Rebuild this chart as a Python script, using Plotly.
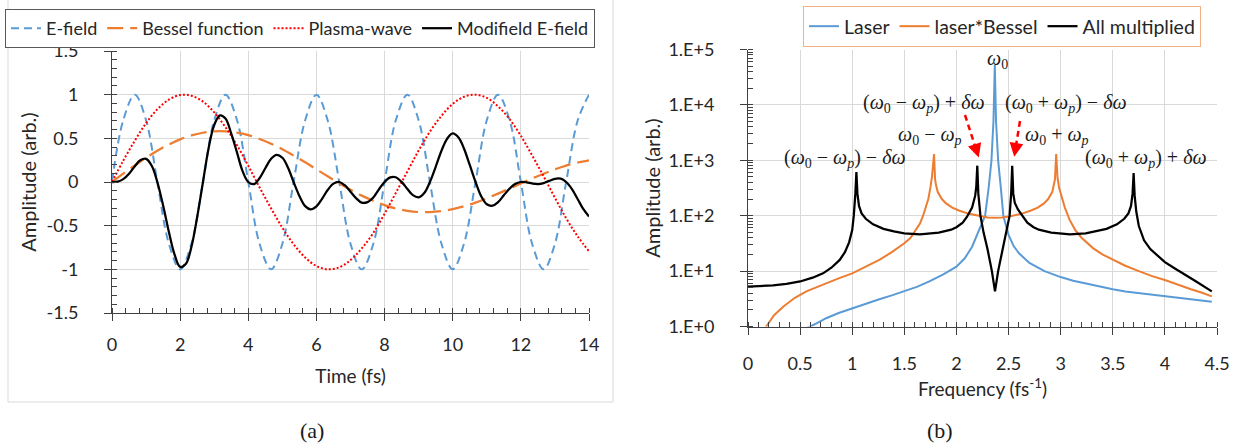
import plotly.graph_objects as go

# ---------------- Panel (a): time domain ----------------
t_coarse = [0, 0.33, 0.67, 1, 1.33, 1.67, 2, 2.33, 2.67, 3, 3.33, 3.67, 4, 4.33, 4.67,
            5, 5.33, 5.67, 6, 6.33, 6.67, 7, 7.33, 7.67, 8, 8.33, 8.67, 9, 9.33, 9.67,
            10, 10.33, 10.67, 11, 11.33, 11.67, 12, 12.33, 12.67, 13, 13.33, 13.67, 14]

e_field = [0, 0.707, 1, 0.707, 0, -0.707, -1, -0.707,
           0, 0.707, 1, 0.707, 0, -0.707, -1, -0.707,
           0, 0.707, 1, 0.707, 0, -0.707, -1, -0.707,
           0, 0.707, 1, 0.707, 0, -0.707, -1, -0.707,
           0, 0.707, 1, 0.707, 0, -0.707, -1, -0.707,
           0, 0.707, 1]

bessel = [0, 0.096, 0.19, 0.278, 0.358, 0.429, 0.488, 0.533, 0.564, 0.579, 0.58, 0.565,
          0.536, 0.493, 0.439, 0.375, 0.303, 0.226, 0.145, 0.065, -0.014, -0.088, -0.156,
          -0.215, -0.265, -0.304, -0.33, -0.344, -0.345, -0.334, -0.311, -0.278, -0.236,
          -0.187, -0.133, -0.075, -0.017, 0.04, 0.095, 0.145, 0.188, 0.223, 0.249]

plasma = [0, 0.244, 0.473, 0.674, 0.833, 0.943, 0.996, 0.988, 0.921, 0.798, 0.627, 0.42,
          0.185, -0.061, -0.303, -0.524, -0.713, -0.865, -0.962, -1.0, -0.977, -0.894,
          -0.761, -0.583, -0.363, -0.125, 0.121, 0.36, 0.576, 0.758, 0.894, 0.976, 1.0,
          0.963, 0.867, 0.719, 0.529, 0.306, 0.064, -0.181, -0.415, -0.624, -0.794]

t_fine = [0, 0.17, 0.33, 0.5, 0.67, 0.83, 1, 1.17, 1.33, 1.5, 1.67, 1.83,
          2, 2.17, 2.33, 2.5, 2.67, 2.83, 3, 3.17, 3.33, 3.5, 3.67, 3.83,
          4, 4.17, 4.33, 4.5, 4.67, 4.83, 5, 5.17, 5.33, 5.5, 5.67, 5.83,
          6, 6.17, 6.33, 6.5, 6.67, 6.83, 7, 7.17, 7.33, 7.5, 7.67, 7.83,
          8, 8.17, 8.33, 8.5, 8.67, 8.83, 9, 9.17, 9.33, 9.5, 9.67, 9.83,
          10, 10.17, 10.33, 10.5, 10.67, 10.83, 11, 11.17, 11.33, 11.5, 11.67, 11.83,
          12, 12.17, 12.33, 12.5, 12.67, 12.83, 13, 13.17, 13.33, 13.5, 13.67, 13.83, 14]

modified = [0, 0.005, 0.033, 0.095, 0.18, 0.248,
            0.265, 0.184, 0, -0.268, -0.572, -0.822,
            -0.972, -0.936, -0.745, -0.401, 0, 0.376,
            0.653, 0.763, 0.727, 0.554, 0.336, 0.128,
            0, -0.024, 0.043, 0.157, 0.266, 0.311,
            0.278, 0.161, 0, -0.16, -0.276, -0.313,
            -0.279, -0.19, -0.092, -0.019, 0, -0.037,
            -0.111, -0.187, -0.237, -0.23, -0.177, -0.087,
            0, 0.053, 0.054, 0.001, -0.08, -0.15,
            -0.175, -0.124, 0, 0.174, 0.358, 0.492,
            0.556, 0.509, 0.384, 0.195, 0, -0.159,
            -0.255, -0.271, -0.231, -0.152, -0.076, -0.022,
            0, -0.004, -0.017, -0.023, -0.012, 0.013,
            0.037, 0.038, 0, -0.082, -0.197, -0.309, -0.395]

time_ticks = [0, 2, 4, 6, 8, 10, 12, 14]
amp_ticks = [-1.5, -1, -0.5, 0, 0.5, 1, 1.5]
amp_labels = ["-1.5", "-1", "-0.5", "0", "0.5", "1", "1.5"]

# ---------------- Panel (b): frequency domain ----------------
f_laser = [0.55, 0.6, 0.68, 0.75, 0.87, 1.0, 1.13, 1.26, 1.38, 1.5, 1.62, 1.74, 1.87, 2.0,
           2.08, 2.15, 2.2, 2.25, 2.275, 2.31, 2.336, 2.355, 2.368, 2.38, 2.40, 2.425, 2.45,
           2.5, 2.55, 2.6, 2.7, 2.845, 3.0, 3.12, 3.25, 3.37, 3.5, 3.62, 3.75, 3.87, 4.0,
           4.12, 4.25, 4.35, 4.45]
a_laser = [0.93, 1.0, 1.2, 1.41, 1.75, 2.14, 2.6, 3.1, 3.65, 4.3, 5.2, 6.5, 8.6, 12,
           17, 27.6, 45, 75, 100, 330, 1000, 5000, 53000, 5000, 1000, 330, 100,
           45, 28, 21, 14, 10, 7.8, 6.7, 5.9, 5.25, 4.7, 4.3, 4.0, 3.75, 3.5,
           3.3, 3.1, 2.95, 2.8]

f_bessel = [0.15, 0.175, 0.25, 0.34, 0.45, 0.56, 0.65, 0.75, 0.87, 1.0, 1.13, 1.26, 1.38,
            1.5, 1.56, 1.61, 1.65, 1.68, 1.71, 1.73, 1.75, 1.765, 1.785, 1.795, 1.805,
            1.82, 1.86, 1.9, 1.96, 2.03, 2.12, 2.22, 2.3, 2.37, 2.44, 2.52, 2.62, 2.71,
            2.78, 2.84, 2.88, 2.92, 2.935, 2.945, 2.957, 2.97, 2.985, 3.0, 3.04, 3.085,
            3.14, 3.2, 3.31, 3.4, 3.5, 3.62, 3.75, 3.87, 4.0, 4.12, 4.25, 4.35, 4.45]
a_bessel = [0.85, 1.0, 1.6, 2.3, 3.3, 4.3, 5.1, 6.0, 7.4, 9.1, 12, 15.9, 22,
            31.7, 40, 55, 72, 100, 145, 200, 320, 500, 1300, 450, 350,
            270, 200, 167, 140, 123, 108, 98, 93, 92, 93, 98, 108, 123,
            140, 167, 200, 270, 350, 450, 1300, 480, 320, 250, 140, 85,
            55, 40, 26, 20, 16, 12.5, 10, 8.2, 6.9, 5.7, 4.7, 4.1, 3.5]

f_all = [0, 0.1, 0.24, 0.37, 0.5, 0.62, 0.72, 0.8, 0.88, 0.93, 0.97, 1.0, 1.015, 1.03,
         1.04, 1.05, 1.065, 1.09, 1.13, 1.2, 1.3, 1.4, 1.5, 1.65, 1.83, 1.95, 2.0, 2.06,
         2.1, 2.15, 2.18, 2.19, 2.2, 2.21, 2.23, 2.26, 2.3, 2.34, 2.37, 2.40, 2.44, 2.48,
         2.51, 2.525, 2.535, 2.545, 2.56, 2.59, 2.64, 2.68, 2.74, 2.79, 2.91, 3.09, 3.24,
         3.34, 3.44, 3.54, 3.61, 3.65, 3.675, 3.69, 3.70, 3.71, 3.725, 3.75, 3.8, 3.86,
         3.93, 4.0, 4.1, 4.2, 4.3, 4.45]
a_all = [5.25, 5.3, 5.5, 5.9, 6.5, 7.6, 9.1, 11.5, 15.9, 22, 33, 55, 100, 250,
         615, 250, 150, 110, 88, 70, 58, 52, 48, 46, 49.5, 56, 62, 75,
         95, 140, 230, 330, 800, 250, 100, 50, 24, 10, 4.3, 10, 24, 50,
         100, 250, 800, 250, 170, 130, 95, 75, 62, 56, 49.5, 46, 48,
         52, 58, 70, 88, 110, 150, 250, 590, 230, 120, 65, 36, 25,
         19, 14.5, 11, 8.5, 6.5, 4.3]

freq_ticks = [0, 0.5, 1, 1.5, 2, 2.5, 3, 3.5, 4, 4.5]
freq_labels = ["0", "0.5", "1", "1.5", "2", "2.5", "3", "3.5", "4", "4.5"]
log_ticks = [1, 10, 100, 1000, 10000, 100000]
log_labels = ["1.E+0", "1.E+1", "1.E+2", "1.E+3", "1.E+4", "1.E+5"]

# ---------------- Figure ----------------
W, H = 1257, 448
BLUE, ORANGE = "#5B9BD5", "#ED7D31"
AX = "#404040"
GRID = "#D9D9D9"
FONT = "Lato, Carlito, 'Open Sans', sans-serif"
SERIF = "'Liberation Serif', 'DejaVu Serif', serif"


def px(x):
    return x / W


def py(y):
    return 1 - y / H


fig = go.Figure()
fig.add_trace(go.Scatter(x=t_coarse, y=e_field, name="E-field", mode="lines",
                         line=dict(color=BLUE, width=2, dash="8px,5px", shape="spline"),
                         xaxis="x", yaxis="y", legend="legend"))
fig.add_trace(go.Scatter(x=t_coarse, y=bessel, name="Bessel function", mode="lines",
                         line=dict(color=ORANGE, width=2.25, dash="16px,7px", shape="spline"),
                         xaxis="x", yaxis="y", legend="legend"))
fig.add_trace(go.Scatter(x=t_coarse, y=plasma, name="Plasma-wave", mode="lines",
                         line=dict(color="#FF0000", width=2, dash="2px,2px", shape="spline"),
                         xaxis="x", yaxis="y", legend="legend"))
fig.add_trace(go.Scatter(x=t_fine, y=modified, name="Modifield E-field", mode="lines",
                         line=dict(color="black", width=2.25, shape="spline"),
                         xaxis="x", yaxis="y", legend="legend"))

fig.add_trace(go.Scatter(x=f_laser, y=a_laser, name="Laser", mode="lines",
                         line=dict(color=BLUE, width=2),
                         xaxis="x2", yaxis="y2", legend="legend2"))
fig.add_trace(go.Scatter(x=f_bessel, y=a_bessel, name="laser*Bessel", mode="lines",
                         line=dict(color=ORANGE, width=2),
                         xaxis="x2", yaxis="y2", legend="legend2"))
fig.add_trace(go.Scatter(x=f_all, y=a_all, name="All multiplied", mode="lines",
                         line=dict(color="black", width=2.25),
                         xaxis="x2", yaxis="y2", legend="legend2"))

common = dict(showline=True, linecolor=AX, linewidth=1, ticks="outside", ticklen=7,
              tickcolor=AX, showgrid=True, gridcolor=GRID, gridwidth=1, zeroline=False,
              automargin=False, tickfont=dict(size=18, color="#262626"))

fig.update_layout(
    width=W, height=H, margin=dict(l=0, r=0, t=0, b=0),
    template="none", paper_bgcolor="white", plot_bgcolor="white",
    font=dict(family=FONT, size=18, color="#262626"),
    showlegend=True,
    xaxis=dict(domain=[px(112), px(589)], range=[0, 14], anchor="y",
               tickmode="array", tickvals=time_ticks, ticklabelstandoff=8,
               minor=dict(tickmode="linear", tick0=0, dtick=0.4, ticks="inside",
                          ticklen=5, tickcolor=AX, showgrid=False),
               title=dict(text="Time (fs)", standoff=16, font=dict(size=19)), **common),
    yaxis=dict(domain=[py(313), py(51)], range=[-1.5, 1.5], anchor="x",
               tickmode="array", tickvals=amp_ticks, ticktext=amp_labels,
               ticklabelstandoff=22,
               minor=dict(tickmode="linear", tick0=0, dtick=0.1, ticks="inside",
                          ticklen=5, tickcolor=AX, showgrid=False),
               title=dict(text="Amplitude (arb.)", standoff=4, font=dict(size=20)), **common),
    xaxis2=dict(domain=[px(748), px(1217)], range=[0, 4.5], anchor="y2",
                tickmode="array", tickvals=freq_ticks, ticktext=freq_labels,
                ticklabelstandoff=14,
                minor=dict(tickmode="linear", tick0=0, dtick=0.1, ticks="inside",
                           ticklen=5, tickcolor=AX, showgrid=False),
                title=dict(text="Frequency (fs<sup>-1</sup>)", standoff=9, font=dict(size=19)),
                **common),
    yaxis2=dict(domain=[py(326.5), py(49.5)], type="log", range=[0, 5], anchor="x2",
                tickmode="array", tickvals=log_ticks, ticktext=log_labels,
                ticklabelstandoff=22,
                minor=dict(tickmode="linear", dtick="D1", ticks="inside",
                           ticklen=5, tickcolor=AX, showgrid=False),
                title=dict(text="Amplitude (arb.)", standoff=2, font=dict(size=20)), **common),
    legend=dict(orientation="h", x=px(5), y=py(9), xanchor="left", yanchor="top",
                bordercolor="#595959", borderwidth=1, bgcolor="white",
                font=dict(size=18), itemwidth=30, tracegroupgap=0),
    legend2=dict(orientation="h", x=px(803), y=py(6), xanchor="left", yanchor="top",
                 bordercolor="#F4B183", borderwidth=1, bgcolor="white",
                 font=dict(size=19.5), itemwidth=30, tracegroupgap=0),
)

# outer frame of panel (a)
fig.add_shape(type="rect", xref="paper", yref="paper", x0=px(8), x1=px(613),
              y0=py(402), y1=py(-2), line=dict(color=GRID, width=1), layer="below")

# peak labels in panel (b)
w0 = "<i>ω</i><sub>0</sub>"
wp = "<i>ω<sub>p</sub></i>"
dw = "<i>δω</i>"
labels = [
    (w0, 997, 60),
    ("(" + w0 + " − " + wp + ") + " + dw, 924, 103),
    ("(" + w0 + " + " + wp + ") − " + dw, 1066, 103),
    (w0 + " − " + wp, 930, 135),
    (w0 + " + " + wp, 1057, 135),
    ("(" + w0 + " − " + wp + ") − " + dw, 845, 158),
    ("(" + w0 + " + " + wp + ") + " + dw, 1146, 158),
]
for txt, xx, yy in labels:
    fig.add_annotation(text=txt, xref="paper", yref="paper", x=px(xx), y=py(yy),
                       xanchor="center", yanchor="middle", showarrow=False,
                       font=dict(family=SERIF, size=20, color="#1a1a1a"))

# red dashed arrows
arrows = [((965, 115), (977, 152)), ((1020, 121), (1015, 152))]
for (x0, y0), (x1, y1) in arrows:
    fig.add_shape(type="line", xref="paper", yref="paper", x0=px(x0), y0=py(y0),
                  x1=px(x1), y1=py(y1), line=dict(color="#FF0000", width=2.5, dash="6px,4px"))
    fig.add_annotation(text="", xref="paper", yref="paper", x=px(x1 + (x1 - x0) * 0.15),
                       y=py(y1 + (y1 - y0) * 0.15), ax=(x0 - x1) * 0.25, ay=(y0 - y1) * 0.25,
                       showarrow=True, arrowhead=2, arrowsize=1.1, arrowwidth=2.5,
                       arrowcolor="#FF0000")

# sub-figure captions
fig.add_annotation(text="(a)", xref="paper", yref="paper", x=px(312), y=py(430),
                   xanchor="center", yanchor="middle", showarrow=False,
                   font=dict(family=SERIF, size=22, color="#1a1a1a"))
fig.add_annotation(text="(b)", xref="paper", yref="paper", x=px(940), y=py(430),
                   xanchor="center", yanchor="middle", showarrow=False,
                   font=dict(family=SERIF, size=22, color="#1a1a1a"))

fig.write_html("out.html")
